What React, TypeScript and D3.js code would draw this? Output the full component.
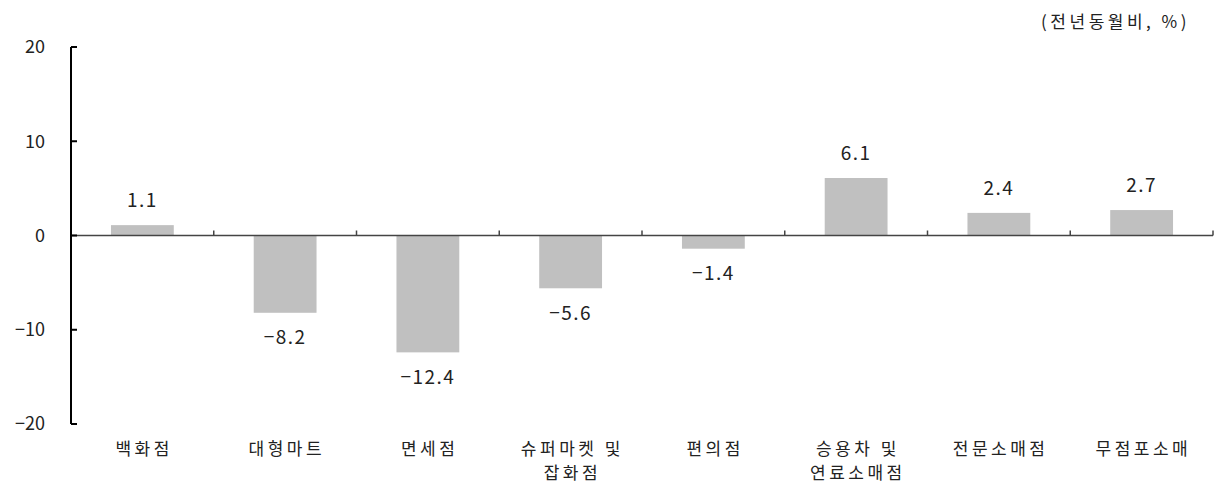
import React from "react";
import * as d3 from "d3";

const categories: string[][] = [
  ["백화점"],
  ["대형마트"],
  ["면세점"],
  ["슈퍼마켓 및", "잡화점"],
  ["편의점"],
  ["승용차 및", "연료소매점"],
  ["전문소매점"],
  ["무점포소매"],
];
const values: number[] = [1.1, -8.2, -12.4, -5.6, -1.4, 6.1, 2.4, 2.7];
const yTicks: number[] = [20, 10, 0, -10, -20];
const unitLabel = "(전년동월비, %)";

const W = 1216;
const H = 484;
const FONT = "'Noto Sans CJK KR', 'Noto Sans', sans-serif";

export default function App() {
  const left = 71;
  const right = 1213;
  const x = d3
    .scaleBand<number>()
    .domain(d3.range(categories.length))
    .range([left, right])
    .paddingInner(0)
    .paddingOuter(0);
  const y = d3.scaleLinear().domain([-20, 20]).range([424, 47]);
  const bw = x.bandwidth() * 0.44;
  const y0 = y(0);
  const fmt = (v: number) => (v < 0 ? "−" + Math.abs(v).toFixed(1) : v.toFixed(1));

  return (
    <svg
      width={W}
      height={H}
      style={{ position: "absolute", left: 0, top: 0, background: "#fff" }}
      fontFamily={FONT}
    >
      <text x={1190} y={28} textAnchor="end" fontSize={17} fill="#222" letterSpacing={3.5}>
        {unitLabel}
      </text>
      {/* bars */}
      {values.map((v, i) => {
        const cx = (x(i) as number) + x.bandwidth() / 2;
        const top = Math.min(y(v), y0);
        const h = Math.abs(y(v) - y0);
        return (
          <g key={i}>
            <rect x={cx - bw / 2} y={top} width={bw} height={h} fill="#c0c0c0" />
            <text
              x={cx}
              y={v >= 0 ? y(v) - 25 : y(v) + 25}
              dy="0.35em"
              textAnchor="middle"
              fontSize={19}
              fill="#222"
              letterSpacing={1.5}
            >
              {fmt(v)}
            </text>
          </g>
        );
      })}
      {/* zero line */}
      <line x1={left} x2={right} y1={y0} y2={y0} stroke="#444" strokeWidth={1.5} />
      {d3.range(1, categories.length + 1).map((i) => {
        const bx = i < categories.length ? (x(i) as number) : right;
        return <line key={i} x1={bx} x2={bx} y1={y0} y2={y0 - 5} stroke="#444" strokeWidth={1.5} />;
      })}
      {/* y axis */}
      <line x1={left} x2={left} y1={y(20)} y2={y(-20)} stroke="#000" strokeWidth={2} />
      {yTicks.map((t) => (
        <g key={t}>
          <line x1={left} x2={left + 6} y1={y(t)} y2={y(t)} stroke="#000" strokeWidth={2} />
          <text x={45} y={y(t)} dy="0.35em" textAnchor="end" fontSize={18} fill="#222">
            {t < 0 ? "−" + Math.abs(t) : String(t)}
          </text>
        </g>
      ))}
      {/* category labels */}
      {categories.map((lines, i) => {
        const cx = (x(i) as number) + x.bandwidth() / 2;
        return (
          <text key={i} textAnchor="middle" fontSize={17} fill="#222" letterSpacing={3.5}>
            {lines.map((l, j) => (
              <tspan key={j} x={cx + 1.75} y={449 + j * 24} dy="0.35em">
                {l}
              </tspan>
            ))}
          </text>
        );
      })}
    </svg>
  );
}
